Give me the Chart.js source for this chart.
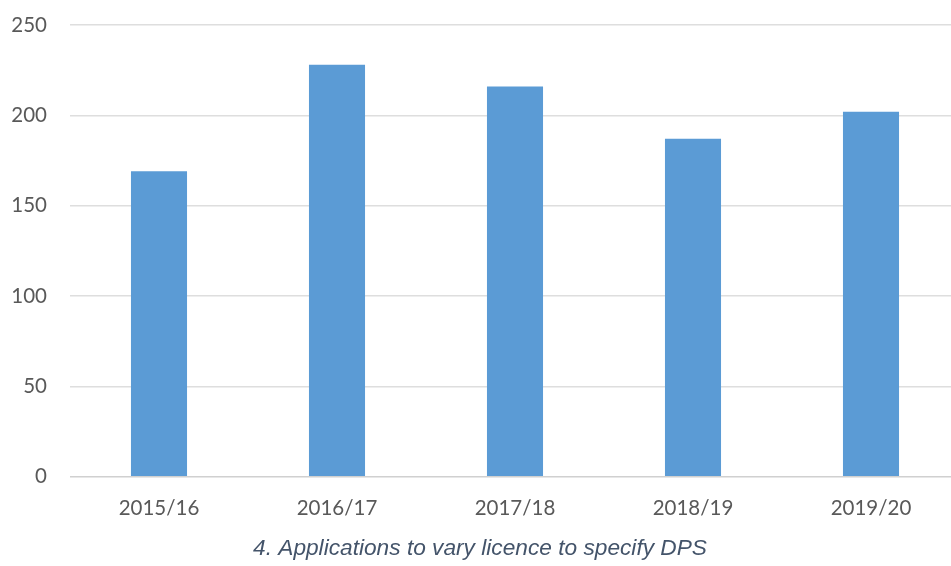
<!DOCTYPE html>
<html>
<head>
<meta charset="utf-8">
<script src="https://cdn.jsdelivr.net/npm/chart.js@4"></script>
<style>
  html, body { margin: 0; padding: 0; background: #fff; overflow: hidden; }
  #wrap { width: 960px; height: 566px; }
</style>
</head>
<body>
<div id="wrap"><canvas id="chart"></canvas></div>
<script>
const years = ['2015/16', '2016/17', '2017/18', '2018/19', '2019/20'];
const applications = [169, 228, 216, 187, 202];
const yTicks = [0, 50, 100, 150, 200, 250];
const caption = '4. Applications to vary licence to specify DPS';

const labelColor = '#595959';

new Chart(document.getElementById('chart'), {
  type: 'bar',
  data: {
    labels: years,
    datasets: [{
      label: 'Applications',
      data: applications,
      backgroundColor: '#5B9BD5',
      categoryPercentage: 1,
      barPercentage: 0.315
    }]
  },
  options: {
    responsive: true,
    maintainAspectRatio: false,
    animation: false,
    layout: { padding: { top: 25, right: 0, left: 0, bottom: 0 } },
    plugins: {
      legend: { display: false },
      tooltip: { enabled: false },
      title: {
        display: true,
        position: 'bottom',
        text: caption,
        color: '#44546A',
        font: { family: '"Liberation Sans", Arial, sans-serif', size: 22.7, style: 'italic', weight: 'normal' },
        padding: { top: 9, bottom: 4 }
      }
    },
    scales: {
      x: {
        grid: { display: false },
        border: { display: false },
        ticks: {
          color: labelColor,
          font: { family: 'Lato, sans-serif', size: 20.5 },
          padding: 11,
          maxRotation: 0
        },
        afterFit(scale) { scale.height = 49; }
      },
      y: {
        min: 0,
        max: 250,
        afterBuildTicks(scale) { scale.ticks = yTicks.map(v => ({ value: v })); },
        grid: {
          drawTicks: false,
          color: ctx => ctx.tick && ctx.tick.value === 0 ? '#d0d0d0' : '#dedede',
          lineWidth: 1.5
        },
        border: { display: false },
        ticks: {
          color: labelColor,
          font: { family: 'Lato, sans-serif', size: 20.5 },
          padding: 23
        },
        afterFit(scale) {
          scale.width = 70;
          scale.paddingTop = 0;
          scale.paddingBottom = 0;
        }
      }
    }
  }
});
</script>
</body>
</html>
